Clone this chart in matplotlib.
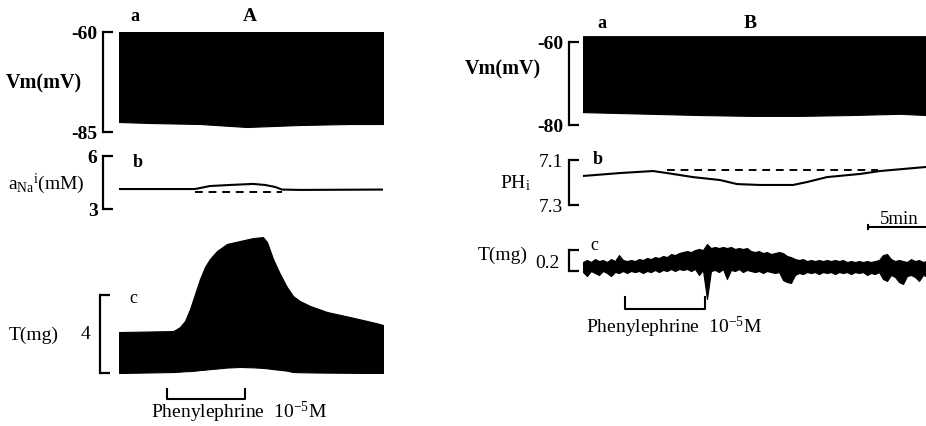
import matplotlib
matplotlib.use("Agg")
import matplotlib.pyplot as plt

plt.rcParams['font.family'] = ['Liberation Serif', 'DejaVu Serif']
plt.rcParams['mathtext.fontset'] = 'custom'
plt.rcParams['mathtext.rm'] = 'Liberation Serif'
plt.rcParams['mathtext.it'] = 'Liberation Serif:italic'
plt.rcParams['mathtext.bf'] = 'Liberation Serif:bold'

# ---- panel A (time in min) ----
vm_a_t = [0, 2.67, 6.98, 11.03, 15.6, 19.9, 22.76]
vm_a_top = [-60.0, -60.0, -60.0, -60.0, -60.0, -60.0, -60.0]
vm_a_bot = [-82.5, -82.75, -83.0, -83.75, -83.25, -83.0, -83.0]

na_t = [0, 6.55, 7.84, 9.57, 11.55, 12.59, 13.45, 14.05, 15.6, 22.76]
na_v = [4.13, 4.13, 4.30, 4.36, 4.42, 4.36, 4.25, 4.10, 4.08, 4.10]
na_dash_t = [6.55, 14.05]
na_dash_v = [3.96, 3.96]

ta_t = [0, 4.66, 5.0, 5.26, 5.69, 6.12, 6.55, 6.98, 7.41, 7.84, 8.45, 9.31, 10.43, 11.55,
        12.41, 12.76, 13.28, 13.88, 14.48, 15.0, 15.6, 16.47, 17.93, 19.91, 21.38, 22.5, 22.76]
ta_top = [2.10, 2.15, 2.26, 2.36, 2.67, 3.28, 4.05, 4.82, 5.44, 5.85, 6.26, 6.62, 6.77, 6.92,
          6.97, 6.72, 5.85, 5.08, 4.41, 3.95, 3.69, 3.44, 3.13, 2.87, 2.67, 2.51, 2.46]
ta_bot = [0.0, 0.05, 0.06, 0.07, 0.09, 0.10, 0.12, 0.15, 0.17, 0.20, 0.23, 0.28, 0.31, 0.29,
          0.26, 0.24, 0.20, 0.16, 0.12, 0.05, 0.04, 0.03, 0.02, 0.01, 0.0, 0.0, 0.0]
pe_a = [4.14, 10.86]

# ---- panel B ----
vm_b_t = [0, 2.93, 5.78, 10.09, 14.40, 18.71, 23.02, 27.33, 29.57]
vm_b_top = [-58.6, -58.6, -58.6, -58.6, -58.6, -58.6, -58.6, -58.6, -58.6]
vm_b_bot = [-76.9, -77.1, -77.3, -77.6, -77.8, -77.8, -77.6, -77.3, -77.6]

ph_t = [0, 3.19, 6.03, 7.24, 9.48, 11.81, 13.28, 15.26, 18.10, 19.31, 21.03, 23.88, 25.60, 29.57]
ph_v = [7.171, 7.158, 7.149, 7.158, 7.176, 7.189, 7.207, 7.211, 7.211, 7.198, 7.176, 7.162, 7.149, 7.131]
ph_dash_t = [7.24, 25.43]
ph_dash_v = [7.144, 7.144]

tb_t = [0, 0.34, 0.69, 1.03, 1.38, 1.72, 2.07, 2.41, 2.76, 3.10, 3.45, 3.79, 4.14, 4.48,
        4.83, 5.17, 5.52, 5.86, 6.21, 6.55, 6.90, 7.24, 7.59, 7.93, 8.28, 8.62, 8.97, 9.31,
        9.66, 10.00, 10.34, 10.69, 11.03, 11.38, 11.72, 12.07, 12.41, 12.76, 13.10, 13.45,
        13.79, 14.14, 14.48, 14.83, 15.17, 15.52, 15.86, 16.21, 16.55, 16.90, 17.24, 17.59,
        17.93, 18.28, 18.62, 18.97, 19.31, 19.66, 20.00, 20.34, 20.69, 21.03, 21.38, 21.72,
        22.07, 22.41, 22.76, 23.10, 23.45, 23.79, 24.14, 24.48, 24.83, 25.17, 25.52, 25.86,
        26.21, 26.55, 26.90, 27.24, 27.59, 27.93, 28.28, 28.62, 28.97, 29.31, 29.57]
tb_hi = [0.086, 0.105, 0.086, 0.114, 0.095, 0.105, 0.086, 0.114, 0.095, 0.152, 0.105, 0.095,
         0.105, 0.095, 0.114, 0.105, 0.124, 0.114, 0.133, 0.124, 0.143, 0.133, 0.162, 0.152,
         0.171, 0.181, 0.190, 0.181, 0.200, 0.210, 0.200, 0.257, 0.219, 0.229, 0.219, 0.229,
         0.219, 0.229, 0.210, 0.219, 0.210, 0.219, 0.190, 0.181, 0.190, 0.171, 0.181, 0.162,
         0.171, 0.181, 0.171, 0.143, 0.133, 0.114, 0.105, 0.114, 0.095, 0.105, 0.095, 0.105,
         0.095, 0.105, 0.095, 0.105, 0.095, 0.105, 0.086, 0.095, 0.086, 0.095, 0.086, 0.095,
         0.086, 0.095, 0.105, 0.152, 0.162, 0.114, 0.095, 0.105, 0.095, 0.086, 0.114, 0.095,
         0.105, 0.086, 0.095]
tb_lo = [-0.010, -0.048, 0.000, -0.019, -0.038, 0.000, -0.019, -0.048, -0.010, -0.019, 0.000,
         -0.019, 0.000, -0.010, 0.000, -0.019, 0.000, -0.010, 0.010, -0.010, 0.010, 0.000,
         0.019, 0.000, 0.019, 0.010, 0.019, 0.000, 0.019, -0.038, 0.010, -0.267, 0.000, 0.010,
         -0.010, 0.019, -0.076, 0.010, 0.000, 0.019, -0.010, 0.010, 0.000, -0.010, 0.000,
         -0.019, 0.000, -0.010, -0.019, -0.010, -0.086, -0.105, -0.114, -0.038, -0.019, -0.029,
         -0.010, -0.019, -0.010, -0.029, -0.010, -0.019, -0.010, -0.029, -0.010, -0.019, -0.010,
         -0.029, -0.010, -0.019, -0.010, -0.038, -0.019, -0.029, -0.010, -0.076, -0.095, -0.038,
         -0.057, -0.105, -0.124, -0.048, -0.038, -0.057, -0.095, -0.038, -0.048]
pe_b = [3.62, 10.52]
bar_5min = [24.57, 29.57]

W, H = 926, 427
fig = plt.figure(figsize=(W / 100, H / 100), dpi=100)


def box(x0, y0, x1, y1):
    # pixel box -> figure fraction
    return [x0 / W, 1 - y1 / H, (x1 - x0) / W, (y1 - y0) / H]


def bracket(ax, lo, hi, offset_px, labels=None, fs=14, bold=True):
    for s in ['top', 'right', 'bottom']:
        ax.spines[s].set_visible(False)
    ax.spines['left'].set_position(('outward', offset_px * 0.72))
    ax.spines['left'].set_bounds(lo, hi)
    ax.spines['left'].set_linewidth(1.6)
    ax.set_xticks([])
    ax.set_yticks([lo, hi])
    ax.set_yticklabels(labels if labels else ['', ''])
    ax.tick_params(axis='y', direction='in', length=7, width=1.6, pad=4, labelsize=fs)
    for t in ax.get_yticklabels():
        t.set_fontweight('bold' if bold else 'normal')
    ax.patch.set_visible(False)


# ---------- A ----------
axv = fig.add_axes(box(119, 33, 383, 133))
axv.fill_between(vm_a_t, vm_a_bot, vm_a_top, color='black', lw=0.8, edgecolor='black')
axv.set_xlim(0, 22.76)
axv.set_ylim(-85, -60)
bracket(axv, -85, -60, 16, ['-85', '-60'])
axv.text(-6.5, -72.5, 'Vm(mV)', fontsize=14.5, fontweight='bold', ha='center', va='center')
axv.text(1.4, -58, 'a', fontsize=13, fontweight='bold', ha='center', va='bottom')
axv.text(11.3, -58, 'A', fontsize=14, fontweight='bold', ha='center', va='bottom')

axn = fig.add_axes(box(119, 157, 383, 210))
axn.plot(na_t, na_v, color='black', lw=1.5)
axn.plot(na_dash_t, na_dash_v, color='black', lw=1.4, ls=(0, (4, 3)))
axn.set_xlim(0, 22.76)
axn.set_ylim(3, 6)
bracket(axn, 3, 6, 16, ['3', '6'])
axn.text(-6.3, 4.5, r'$\mathrm{a_{Na}{}^{i}(mM)}$', fontsize=14, ha='center', va='center')
axn.text(1.6, 5.7, 'b', fontsize=13, fontweight='bold', ha='center', va='center')

axt = fig.add_axes(box(119, 230, 383, 374))
axt.fill_between(ta_t, ta_bot, ta_top, color='black', lw=0.8, edgecolor='black')
axt.set_xlim(0, 22.76)
axt.set_ylim(0, 7.385)
bracket(axt, 0, 4, 19)
axt.text(-2.9, 2.05, '4', fontsize=14, ha='center', va='center')
axt.text(-7.35, 2.0, 'T(mg)', fontsize=14, ha='center', va='center')
axt.text(1.2, 3.85, 'c', fontsize=13, ha='center', va='center')
tr = axt.get_xaxis_transform()
axt.plot([pe_a[0], pe_a[0], pe_a[1], pe_a[1]], [-0.11, -0.18, -0.18, -0.11],
         color='black', lw=1.5, transform=tr, clip_on=False)
axt.text(10.3, -0.27, r'Phenylephrine  10$^{\mathrm{-5}}$M', fontsize=14,
         ha='center', va='center', transform=tr)

# ---------- B ----------
axv2 = fig.add_axes(box(583, 30, 926, 126))
axv2.fill_between(vm_b_t, vm_b_bot, vm_b_top, color='black', lw=0.8, edgecolor='black')
axv2.set_xlim(0, 29.57)
axv2.set_ylim(-80, -56.87)
bracket(axv2, -80, -60, 14, ['-80', '-60'])
axv2.text(-6.9, -66.5, 'Vm(mV)', fontsize=14.5, fontweight='bold', ha='center', va='center')
axv2.text(1.6, -57.3, 'a', fontsize=13, fontweight='bold', ha='center', va='bottom')
axv2.text(14.4, -57.3, 'B', fontsize=14, fontweight='bold', ha='center', va='bottom')

axp = fig.add_axes(box(583, 161, 926, 206))
axp.plot(ph_t, ph_v, color='black', lw=1.5)
axp.plot(ph_dash_t, ph_dash_v, color='black', lw=1.4, ls=(0, (4, 3)))
axp.set_xlim(0, 29.57)
axp.set_ylim(7.3, 7.1)
bracket(axp, 7.1, 7.3, 14, ['7.1', '7.3'], bold=False)
axp.text(-5.8, 7.2, r'$\mathrm{PH_{i}}$', fontsize=14, ha='center', va='center')
axp.text(1.3, 7.095, 'b', fontsize=13, fontweight='bold', ha='center', va='center')

axb = fig.add_axes(box(583, 240, 926, 310))
axb.fill_between(tb_t, tb_lo, tb_hi, color='black', lw=0.8, edgecolor='black')
axb.set_xlim(0, 29.57)
axb.set_ylim(-0.362, 0.305)
bracket(axb, 0, 0.2, 14)
axb.text(-3.1, 0.085, '0.2', fontsize=14, ha='center', va='center')
axb.text(-6.9, 0.16, 'T(mg)', fontsize=14, ha='center', va='center')
axb.text(1.0, 0.25, 'c', fontsize=13, ha='center', va='center')
trb = axb.get_xaxis_transform()
axb.plot([pe_b[0], pe_b[0], pe_b[1], pe_b[1]], [0.17, 0.0, 0.0, 0.17],
         color='black', lw=1.5, transform=trb, clip_on=False)
axb.text(7.8, -0.25, r'Phenylephrine  10$^{\mathrm{-5}}$M', fontsize=14,
         ha='center', va='center', transform=trb)
axb.plot(bar_5min, [1.171, 1.171], color='black', lw=1.5, transform=trb, clip_on=False)
axb.plot([bar_5min[0], bar_5min[0]], [1.14, 1.2], color='black', lw=1.5, transform=trb, clip_on=False)
axb.text(27.3, 1.3, '5min', fontsize=13.5, ha='center', va='center', transform=trb)

fig.savefig('out.png', dpi=100)
